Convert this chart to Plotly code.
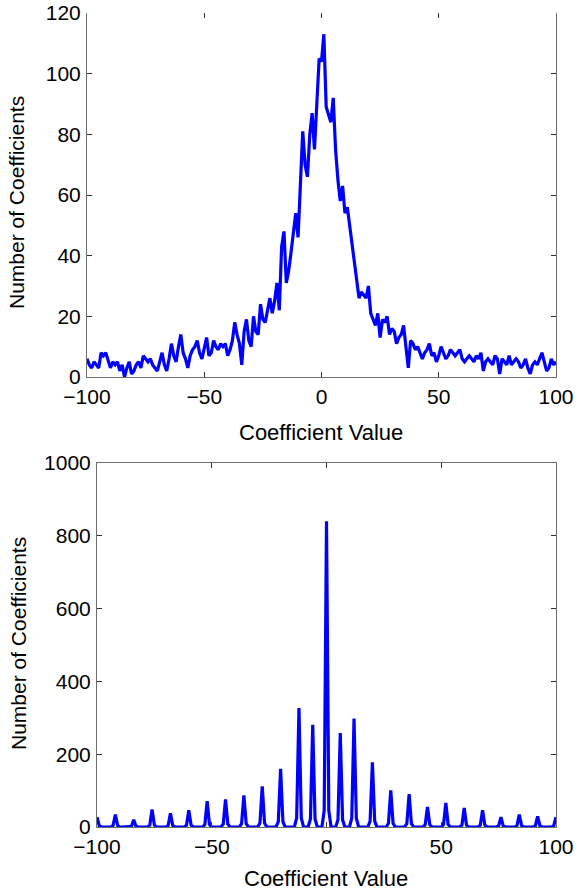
import plotly.graph_objects as go

W, H = 576, 891

# ---------- data: top panel (histogram of coefficient values, bin width 1) ----------
top_x = list(range(-100, 101))
top_counts = [
    6, 4, 3, 5, 4, 3, 8, 7, 8, 5,        # -100..-91
    3, 5, 4, 5, 2, 4, 0, 3, 5, 1,        # -90..-81
    2, 4, 5, 3, 7, 6, 5, 6, 4, 3,        # -80..-71
    2, 5, 8, 4, 2, 6, 11, 7, 5, 10,      # -70..-61
    14, 8, 6, 3, 7, 9, 10, 12, 8, 6,     # -60..-51
    9, 13, 7, 8, 12, 10, 9, 11, 10, 11,  # -50..-41
    7, 9, 12, 18, 14, 11, 4, 15, 19, 12, # -40..-31
    10, 20, 15, 14, 24, 19, 18, 22, 26, 21,  # -30..-21
    25, 31, 22, 43, 48, 31, 35, 41, 47, 54,  # -20..-11
    46, 62, 81, 70, 66, 80, 87, 75, 90, 105, # -10..-1
    104,                                     # 0
    113, 89, 86, 84, 92, 75, 65, 58, 63, 54, # 1..10
    56, 50, 44, 37, 33, 26, 28, 27, 26, 30,  # 11..20
    21, 19, 17, 21, 13, 19, 18, 20, 14, 16,  # 21..30
    15, 11, 13, 14, 17, 10, 3, 12, 11, 9,    # 31..40
    10, 8, 6, 8, 9, 11, 7, 8, 5, 7,          # 41..50
    10, 8, 6, 7, 9, 8, 7, 8, 9, 6,           # 51..60
    5, 6, 7, 6, 5, 7, 6, 8, 2, 5,            # 61..70
    6, 5, 4, 7, 6, 1, 6, 5, 4, 7,            # 71..80
    4, 5, 6, 5, 3, 4, 6, 3, 1, 4,            # 81..90
    5, 4, 6, 8, 5, 2, 3, 6, 4, 5,            # 91..100
]

# ---------- data: bottom panel (quantized coefficients) ----------
bot_x = list(range(-100, 101))
spike_centers = [-100, -92, -84, -76, -68, -60, -52, -44, -36, -28, -20, -12, -6, 0,
                 6, 12, 20, 28, 36, 44, 52, 60, 68, 76, 84, 92, 100]
spike_peaks = [27, 34, 20, 48, 38, 46, 71, 76, 87, 112, 160, 327, 281, 840,
               258, 298, 178, 101, 90, 55, 66, 52, 46, 27, 34, 29, 27]
spike_shoulders = [3, 4, 2, 5, 4, 5, 7, 8, 9, 11, 15, 25, 22, 45,
                   20, 24, 16, 10, 9, 6, 7, 5, 5, 3, 4, 3, 3]

bot_counts = [0] * len(bot_x)
for c, p, s in zip(spike_centers, spike_peaks, spike_shoulders):
    i = bot_x.index(c)
    bot_counts[i] = p
    for j in (i - 1, i + 1):
        if 0 <= j < len(bot_x):
            bot_counts[j] = max(bot_counts[j], s)

x_ticks = [-100, -50, 0, 50, 100]
top_y_ticks = [0, 20, 40, 60, 80, 100, 120]
bot_y_ticks = [0, 200, 400, 600, 800, 1000]

# ---------- layout geometry (pixels) ----------
T = dict(x0=87, x1=556, yt=13, yb=377)
B = dict(x0=97, x1=556, yt=463, yb=827)

def xd(g):
    return [g["x0"] / W, g["x1"] / W]

def yd(g):
    return [1 - g["yb"] / H, 1 - g["yt"] / H]

FONT = "Liberation Sans, Arial, Helvetica, sans-serif"
FS = 21
LINEC = "#6e6e6e"
TICKC = "#333333"
BLUE = "#0000ff"

fig = go.Figure()
fig.add_trace(go.Scatter(x=top_x, y=top_counts, mode="lines",
                         line=dict(color=BLUE, width=3.2), xaxis="x", yaxis="y",
                         showlegend=False, hoverinfo="skip"))
# invisible copy to carry the top tick axis of the upper panel
fig.add_trace(go.Scatter(x=top_x, y=top_counts, mode="lines",
                         line=dict(color="rgba(0,0,0,0)", width=0), xaxis="x3", yaxis="y",
                         showlegend=False, hoverinfo="skip"))
fig.add_trace(go.Scatter(x=bot_x, y=bot_counts, mode="lines",
                         line=dict(color=BLUE, width=3.2), xaxis="x2", yaxis="y2",
                         showlegend=False, hoverinfo="skip"))

common_ax = dict(showgrid=False, zeroline=False, ticks="inside", ticklen=5,
                 tickwidth=1, tickcolor=TICKC, linecolor=LINEC, linewidth=1,
                 showline=True, automargin=False,
                 tickfont=dict(family=FONT, size=FS, color="black"))

fig.update_layout(
    width=W, height=H,
    margin=dict(l=0, r=0, t=0, b=0),
    paper_bgcolor="white", plot_bgcolor="white",
    font=dict(family=FONT, size=FS, color="black"),
    xaxis=dict(domain=xd(T), anchor="y", range=[-100, 100], tickvals=x_ticks,
               mirror=False, ticklabelstandoff=1, **common_ax),
    xaxis3=dict(domain=xd(T), anchor="y", overlaying="x", side="top", matches="x",
                range=[-100, 100], tickvals=x_ticks, showticklabels=False,
                showgrid=False, zeroline=False, ticks="inside", ticklen=5,
                tickwidth=1, tickcolor=TICKC, showline=False, automargin=False),
    yaxis=dict(domain=yd(T), anchor="x", range=[0, 120], tickvals=top_y_ticks,
               mirror="ticks", ticklabelstandoff=1, **common_ax),
    xaxis2=dict(domain=xd(B), anchor="y2", range=[-100, 100], tickvals=x_ticks,
                mirror="ticks", ticklabelstandoff=1, **common_ax),
    yaxis2=dict(domain=yd(B), anchor="x2", range=[0, 1000], tickvals=bot_y_ticks,
                mirror="ticks", ticklabelstandoff=1, **common_ax),
)

def ann(text, px, py, size, angle=0):
    fig.add_annotation(text=text, x=px / W, y=1 - py / H, xref="paper", yref="paper",
                       xanchor="center", yanchor="middle", showarrow=False,
                       textangle=angle, font=dict(family=FONT, size=size, color="black"))

ann("Coefficient Value", 321, 432, 22)
ann("Number of Coefficients", 17, 203, 21, -90)
ann("Coefficient Value", 326, 878, 22)
ann("Number of Coefficients", 18, 644, 21, -90)

fig.write_html("out.html")
